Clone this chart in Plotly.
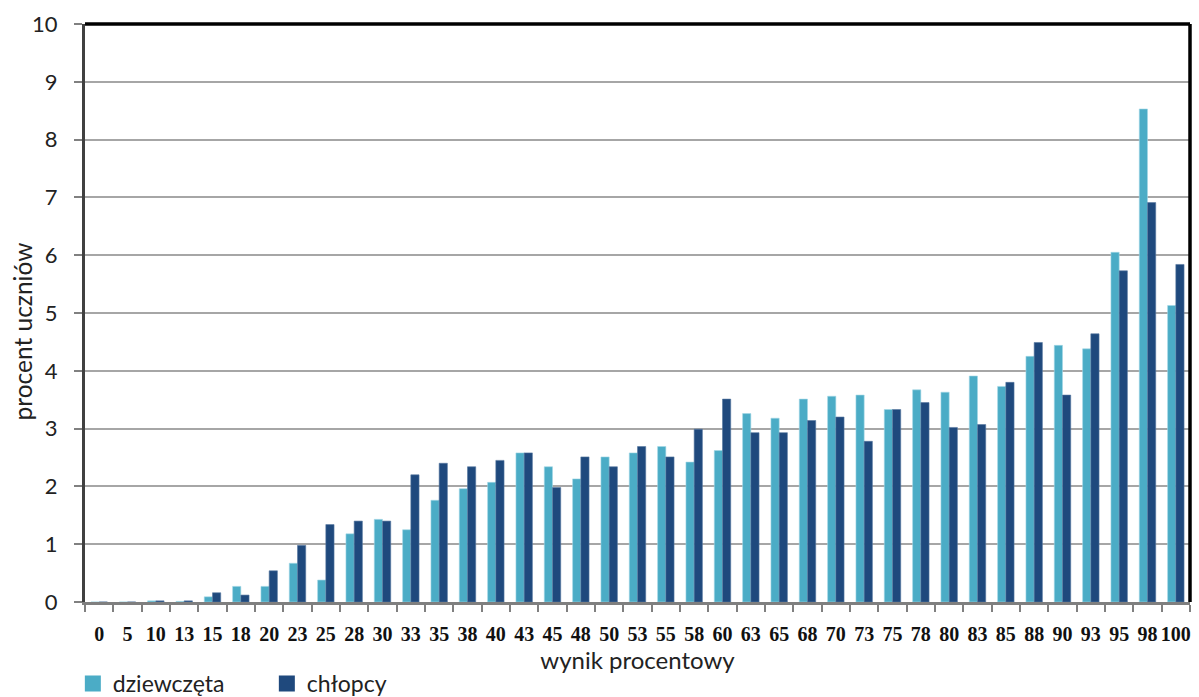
import plotly.graph_objects as go

# Wynik procentowy (kategorie osi X)
wyniki = ["0", "5", "10", "13", "15", "18", "20", "23", "25", "28", "30", "33", "35",
          "38", "40", "43", "45", "48", "50", "53", "55", "58", "60", "63", "65", "68",
          "70", "73", "75", "78", "80", "83", "85", "88", "90", "93", "95", "98", "100"]

# Procent uczniów – dziewczęta
dziewczeta = [0.0, 0.0, 0.02, 0.01, 0.09, 0.27, 0.27, 0.67, 0.38, 1.18, 1.43, 1.25, 1.76,
              1.96, 2.07, 2.58, 2.34, 2.13, 2.51, 2.58, 2.69, 2.42, 2.62, 3.26, 3.18, 3.51,
              3.56, 3.58, 3.33, 3.67, 3.63, 3.91, 3.73, 4.25, 4.44, 4.38, 6.05, 8.53, 5.13]

# Procent uczniów – chłopcy
chlopcy = [0.0, 0.0, 0.02, 0.02, 0.16, 0.12, 0.54, 0.98, 1.34, 1.40, 1.40, 2.20, 2.40,
           2.34, 2.45, 2.58, 1.98, 2.51, 2.34, 2.69, 2.51, 2.99, 3.51, 2.93, 2.93, 3.14,
           3.20, 2.78, 3.33, 3.45, 3.02, 3.07, 3.80, 4.49, 3.58, 4.64, 5.73, 6.91, 5.84]

serie = ["dziewczęta", "chłopcy"]
kolory = ["#4bacc6", "#1f497d"]
obrysy = ["#a3d6e6", "#56779f"]

fig = go.Figure()
for nazwa, wartosci, kolor, obrys in zip(serie, [dziewczeta, chlopcy], kolory, obrysy):
    fig.add_trace(go.Bar(x=wyniki, y=wartosci, name=nazwa, legendgroup=nazwa,
                         showlegend=False,
                         marker=dict(color=kolor, line=dict(color=obrys, width=0.6))))

# Legenda z większymi kwadratami
for nazwa, kolor in zip(serie, kolory):
    fig.add_trace(go.Scatter(x=[None], y=[None], mode="markers", name=nazwa,
                             legendgroup=nazwa,
                             marker=dict(symbol="square", size=16, color=kolor)))

fig.update_layout(
    width=1199, height=697,
    margin=dict(l=85, r=9, t=24, b=95, autoexpand=False),
    paper_bgcolor="white", plot_bgcolor="white",
    barmode="group", bargap=0.42, bargroupgap=0.0,
    font=dict(family="Lato, sans-serif", color="#222222"),
    showlegend=True,
    legend=dict(orientation="h", x=-0.011, xanchor="left",
                y=-0.141, yanchor="middle",
                font=dict(family="Lato, sans-serif", size=23, color="#222222"),
                entrywidth=149, entrywidthmode="pixels",
                itemsizing="trace", tracegroupgap=0),
)

fig.update_xaxes(
    type="category",
    tickson="boundaries", ticks="outside", ticklen=7, tickcolor="#808080", tickwidth=1.5,
    showline=True, linecolor="#7f7f7f", linewidth=2.5,
    showgrid=False, tickangle=0, ticklabelstandoff=12,
    tickfont=dict(family="Liberation Serif, serif", size=20, color="#111111",
                  weight="bold"),
    title=dict(text="wynik procentowy", font=dict(family="Lato, sans-serif", size=24),
               standoff=8),
)
fig.update_yaxes(
    range=[0, 10], dtick=1, tick0=0,
    ticks="outside", ticklen=8, tickcolor="#808080", tickwidth=1.5,
    showline=True, linecolor="#404040", linewidth=3,
    showgrid=True, gridcolor="#a6a6a6", gridwidth=1.5,
    zeroline=False, ticklabelstandoff=12,
    tickfont=dict(family="Lato, sans-serif", size=22, color="#222222"),
)

# Tytuł osi Y
fig.add_annotation(text="procent uczniów", xref="paper", yref="paper",
                   x=-0.057, y=0.468, xanchor="center", yanchor="middle",
                   textangle=-90, showarrow=False,
                   font=dict(family="Lato, sans-serif", size=24.5, color="#222222"))

# Ramka wykresu: gruba górna i prawa krawędź
fig.add_shape(type="line", xref="paper", yref="paper", x0=0, x1=1, y0=1, y1=1,
              line=dict(color="black", width=3.5))
fig.add_shape(type="line", xref="paper", yref="paper", x0=1, x1=1, y0=0, y1=1,
              line=dict(color="black", width=3.5))

fig.write_html("out.html")
